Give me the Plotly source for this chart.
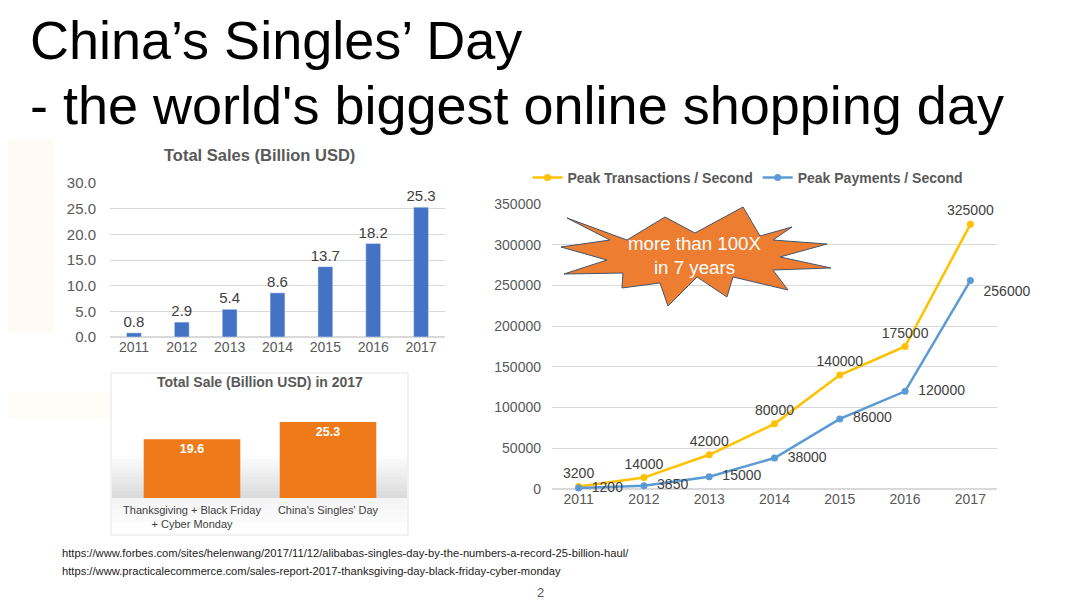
import plotly.graph_objects as go

# data
years = ["2011", "2012", "2013", "2014", "2015", "2016", "2017"]
total_sales = [0.8, 2.9, 5.4, 8.6, 13.7, 18.2, 25.3]

events_2017 = ["Thanksgiving + Black Friday<br>+ Cyber Monday", "China's Singles' Day"]
sales_2017 = [19.6, 25.3]

peak_transactions = [3200, 14000, 42000, 80000, 140000, 175000, 325000]
peak_payments = [1200, 3850, 15000, 38000, 86000, 120000, 256000]

sales_ticks = [0, 5, 10, 15, 20, 25, 30]
peak_ticks = [0, 50000, 100000, 150000, 200000, 250000, 300000, 350000]

W, H = 1080, 608
OFFSET = 8  # the page body adds an 8px margin
FONT = "Liberation Sans, Arial, sans-serif"
GREY = "#595959"
DARK = "#404040"


def px(x):
    return (x - OFFSET) / W


def py(y):
    return 1 - (y - OFFSET) / H


def note(text, x, y, size, color=GREY, xanchor="center"):
    return dict(text=text, x=px(x), y=py(y), xref="paper", yref="paper",
                xanchor=xanchor, yanchor="middle", showarrow=False,
                font=dict(size=size, color=color, family=FONT))


def box(x0, y0, x1, y1, color, line=None):
    return dict(type="rect", xref="paper", yref="paper",
                x0=px(x0), x1=px(x1), y0=py(y1), y1=py(y0),
                fillcolor=color, line=line or dict(width=0), layer="below")


fig = go.Figure()

# top-left: total sales
fig.add_trace(go.Bar(
    x=years,
    y=total_sales,
    width=0.31,
    marker=dict(color="#4472C4"),
    text=[f"{v:.1f}" for v in total_sales],
    textposition="outside",
    constraintext="none",
    textfont=dict(size=15, color=DARK),
    cliponaxis=False,
    showlegend=False,
    xaxis="x", yaxis="y"
))

# bottom-left: 2017 comparison
fig.add_trace(go.Bar(
    x=events_2017,
    y=sales_2017,
    width=0.71,
    marker=dict(color="#EE7A1A", line=dict(width=0)),
    text=[f"<b>{v:.1f}</b>" for v in sales_2017],
    textposition="inside",
    insidetextanchor="end",
    constraintext="none",
    textfont=dict(size=12.5, color="white"),
    showlegend=False,
    xaxis="x2", yaxis="y2"
))

# right: peak per second
fig.add_trace(go.Scatter(
    x=years,
    y=peak_transactions,
    mode="lines+markers+text",
    line=dict(color="#FFC000", width=2.5),
    marker=dict(size=7, color="#FFC000"),
    text=[str(v) for v in peak_transactions],
    textposition="top center",
    textfont=dict(size=14, color=DARK),
    cliponaxis=False,
    name="Peak Transactions / Second",
    xaxis="x3", yaxis="y3"
))

fig.add_trace(go.Scatter(
    x=years,
    y=peak_payments,
    mode="lines+markers+text",
    line=dict(color="#5B9BD5", width=2.5),
    marker=dict(size=7, color="#5B9BD5"),
    text=["  " + str(v) for v in peak_payments],
    textposition=["middle right"] * 6 + ["bottom right"],
    textfont=dict(size=14, color=DARK),
    cliponaxis=False,
    name="Peak Payments / Second",
    xaxis="x3", yaxis="y3"
))

shapes = []

# faint watermark on the left edge
shapes.append(box(0, 140, 54, 332, "#FFFAF4"))
shapes.append(box(0, 392, 110, 418, "#FFFBF6"))

# panel behind the 2017 chart with a soft floor shade
shapes.append(box(111, 373, 408, 535, "white", dict(color="#E3E3E3", width=1)))
n = 12
for i in range(n):
    top = 456 + i * (42 / n)
    shapes.append(box(112, top, 407, 498, "rgba(120,120,120,0.018)"))
for i in range(5):
    bot = 498 + (i + 1) * 6
    shapes.append(box(112, 498, 407, bot, "rgba(150,150,150,0.014)"))

# starburst callout
burst = [(567, 218), (627, 240), (665, 217), (695, 233), (743, 207), (760, 236),
         (792, 227), (773, 240), (827, 244), (780, 257), (831, 268), (773, 270),
         (788, 290), (733, 277), (727, 297), (697, 277), (668, 306), (660, 283),
         (622, 288), (623, 273), (564, 274), (607, 260), (561, 247), (610, 240)]
path = "M " + " L ".join(f"{px(x):.4f},{py(y):.4f}" for x, y in burst) + " Z"
shapes.append(dict(type="path", xref="paper", yref="paper", path=path,
                   fillcolor="#ED7D31", line=dict(color="#44546A", width=1)))

annotations = [
    note("China’s Singles’ Day", 28, 40, 54, "black", "left"),
    note("- the world's biggest online shopping day", 28, 105, 54, "black", "left"),
    note("<b>Total Sales (Billion USD)</b>", 259, 155, 16.5),
    note("<b>Total Sale (Billion USD) in 2017</b>", 260, 382, 14),
    note("more than 100X<br>in 7 years", 695, 255, 18.7, "white"),
    note("https://www.forbes.com/sites/helenwang/2017/11/12/alibabas-singles-day-by-the-numbers-a-record-25-billion-haul/",
         60, 553, 11.2, "#222222", "left"),
    note("https://www.practicalecommerce.com/sales-report-2017-thanksgiving-day-black-friday-cyber-monday",
         60, 571, 11.2, "#222222", "left"),
    note("2", 540, 592, 13),
]

grid = "#D9D9D9"

fig.update_layout(
    width=W,
    height=H,
    margin=dict(l=0, r=0, t=0, b=0, autoexpand=False),
    paper_bgcolor="white",
    plot_bgcolor="rgba(0,0,0,0)",
    font=dict(family=FONT, color=GREY),
    shapes=shapes,
    annotations=annotations,
    legend=dict(
        orientation="h",
        x=px(748), y=py(178),
        xanchor="center", yanchor="middle",
        font=dict(size=14, color=GREY, weight=700),
        bgcolor="rgba(0,0,0,0)",
        itemwidth=30
    ),
    xaxis=dict(
        domain=[px(110), px(445)],
        anchor="y",
        type="category",
        showgrid=False,
        showline=False,
        ticks="",
        tickfont=dict(size=14, color=GREY)
    ),
    yaxis=dict(
        domain=[py(337), py(183)],
        anchor="x",
        range=[0, 30],
        tickvals=sales_ticks,
        tickformat=".1f",
        showgrid=True,
        gridcolor=grid,
        zeroline=True,
        zerolinecolor=grid,
        ticks="",
        ticklabelstandoff=13,
        tickfont=dict(size=15, color=GREY)
    ),
    xaxis2=dict(
        domain=[px(124), px(396)],
        anchor="y2",
        type="category",
        showgrid=False,
        showline=False,
        ticks="",
        ticklabelstandoff=4,
        tickfont=dict(size=11, color=DARK)
    ),
    yaxis2=dict(
        domain=[py(498), py(408)],
        anchor="x2",
        range=[0, 30],
        showgrid=False,
        zeroline=False,
        showticklabels=False
    ),
    xaxis3=dict(
        domain=[px(552), px(997)],
        anchor="y3",
        type="category",
        showgrid=False,
        showline=False,
        ticks="",
        tickfont=dict(size=14, color=GREY)
    ),
    yaxis3=dict(
        domain=[py(489), py(204)],
        anchor="x3",
        range=[0, 350000],
        tickvals=peak_ticks,
        tickformat="d",
        showgrid=True,
        gridcolor=grid,
        zeroline=True,
        zerolinecolor=grid,
        ticks="",
        ticklabelstandoff=10,
        tickfont=dict(size=14, color=GREY)
    )
)

fig.write_html("out.html")
